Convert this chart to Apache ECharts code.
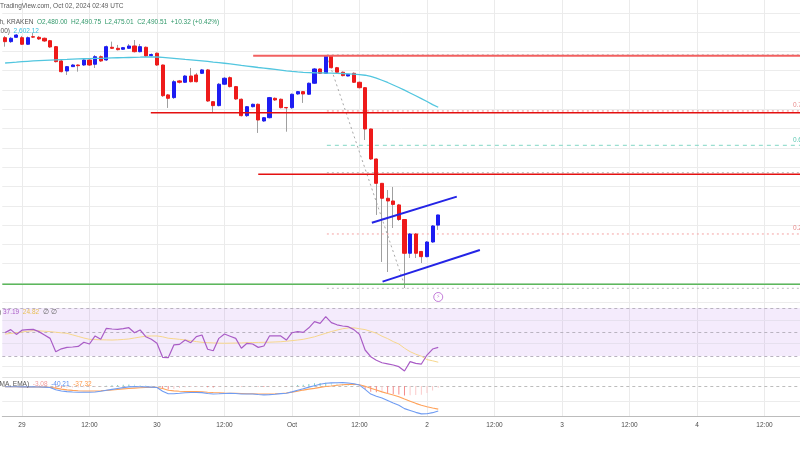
<!DOCTYPE html>
<html><head><meta charset="utf-8">
<script src="https://cdn.jsdelivr.net/npm/echarts@6/dist/echarts.min.js"></script>
<style>html,body{margin:0;padding:0;background:#fff}#c{width:800px;height:450px}</style>
</head><body><div id="c"></div>
<script>
// hours counted from 2024-09-29 00:00 UTC; first candle = Sep 28 21:00
const firstHour = -3;
const opens = [2674.2,2670.1,2674.6,2674.2,2667.4,2675.2,2674.6,2673.6,2671.1,2664.9,
 2650.1,2639.7,2644.2,2645.9,2645.9,2651.1,2646.7,2654.5,2651.1,2664.3,
 2663.2,2662.2,2663.2,2665.6,2659.7,2664.3,2655.6,2658.1,2645.9,2614.9,
 2612.1,2629.4,2628.0,2634.5,2635.6,2637.3,2640.8,2607.9,2603.8,2626.0,
 2632.8,2623.5,2610.4,2593.4,2602.7,2605.2,2587.9,2591.3,2611.4,2610.4,
 2601.9,2601.7,2615.9,2618.3,2615.6,2627.0,2641.8,2637.3,2655.3,2643.1,
 2638.4,2634.5,2637.3,2628.0,2622.4,2579.6,2548.5,2523.3,2507.8,2505.0,
 2500.9,2485.8,2450.8,2470.8,2452.7,2447.3,2462.5,2480.00];
const closes = [2670.1,2673.6,2677.0,2667.4,2674.2,2674.8,2672.9,2670.8,2664.6,2649.4,
 2639.0,2644.2,2645.9,2645.2,2651.1,2645.9,2654.5,2650.1,2664.9,2663.2,
 2661.8,2663.9,2665.6,2659.7,2664.9,2655.3,2656.8,2645.9,2614.1,2611.4,
 2628.6,2628.0,2634.5,2628.6,2628.6,2640.8,2608.6,2603.8,2626.0,2632.2,
 2623.5,2610.7,2593.4,2602.7,2605.2,2588.9,2591.3,2612.1,2609.7,2601.7,
 2601.5,2615.6,2618.3,2615.9,2627.0,2641.8,2637.3,2655.3,2643.1,2638.4,
 2634.9,2636.3,2628.0,2622.4,2579.6,2548.5,2523.3,2507.8,2505.0,2501.4,
 2485.8,2450.8,2470.8,2450.8,2447.3,2462.5,2479.1,2490.51];
const lows = [2664.9,2668.7,2673.9,2666.7,2666.7,2673.9,2671.8,2669.8,2663.6,2648.5,
 2638.2,2635.6,2643.9,2639.0,2644.9,2644.9,2642.8,2649.0,2650.1,2662.5,
 2661.0,2661.5,2662.5,2658.9,2658.9,2654.2,2654.7,2644.9,2612.8,2601.4,
 2610.7,2626.8,2627.3,2627.8,2627.8,2636.6,2607.6,2596.2,2603.0,2625.2,
 2622.6,2609.7,2592.6,2592.0,2601.9,2575.5,2586.9,2590.5,2608.6,2600.9,
 2576.8,2600.3,2614.9,2606.6,2614.9,2626.3,2636.6,2636.6,2642.3,2637.7,
 2634.1,2634.1,2627.3,2621.6,2568.2,2547.5,2490.5,2441.8,2431.4,2477.0,
 2484.3,2414.8,2445.9,2445.9,2440.7,2446.6,2461.5,2475.01];
const highs = [2676.0,2675.0,2678.1,2676.0,2675.5,2679.1,2676.0,2674.4,2671.9,2665.6,
 2651.1,2644.9,2647.0,2646.5,2652.2,2652.2,2656.3,2655.8,2666.1,2670.1,
 2666.7,2664.6,2667.7,2671.8,2667.7,2665.1,2657.9,2658.9,2646.4,2615.9,
 2630.4,2630.4,2635.6,2642.8,2637.7,2641.8,2641.8,2608.6,2627.3,2633.5,
 2634.1,2624.2,2611.2,2603.4,2606.0,2606.0,2592.0,2612.8,2612.3,2611.2,
 2602.4,2616.4,2619.0,2619.0,2627.8,2642.8,2642.3,2656.3,2656.3,2643.9,
 2639.2,2636.6,2638.2,2628.8,2623.1,2580.1,2549.0,2523.6,2516.4,2519.5,
 2501.9,2486.3,2471.8,2471.8,2453.2,2463.5,2480.1,2490.75];
const sma100 = [2648.0,2648.4,2648.8,2649.3,2649.7,2650.1,2650.4,2650.7,2651.0,2651.3,
 2651.5,2651.7,2652.0,2652.2,2652.4,2652.5,2652.7,2652.8,2653.0,2653.2,
 2653.4,2653.5,2653.7,2653.9,2654.0,2654.2,2654.3,2654.2,2653.8,2653.3,
 2652.8,2652.3,2651.7,2651.2,2650.7,2650.2,2649.6,2648.9,2648.3,2647.7,
 2647.1,2646.4,2645.5,2644.8,2644.1,2643.3,2642.7,2642.0,2641.3,2640.6,
 2639.8,2639.2,2638.7,2638.3,2638.1,2637.9,2637.8,2637.6,2637.5,2637.3,
 2637.1,2636.8,2636.5,2636.0,2635.3,2634.0,2632.3,2630.1,2627.8,2625.2,
 2622.6,2619.8,2616.9,2614.0,2611.1,2608.1,2604.9,2602.12];
const rsi = [49.5,52.0,48.0,51.5,52.0,52.2,50.3,47.5,44.7,33.6,
 36.0,37.2,37.5,38.0,41.5,40.0,46.7,43.9,53.1,52.5,
 52.2,52.8,53.6,49.4,51.7,46.1,44.0,40.6,28.9,28.6,
 39.2,39.7,43.3,41.1,46.1,47.5,35.6,34.4,44.7,48.3,
 46.5,44.7,36.4,40.6,40.0,37.2,38.3,46.7,46.7,46.7,
 43.3,49.4,50.3,49.7,53.5,58.6,57.2,62.8,57.8,56.0,
 55.0,54.4,52.0,48.0,35.0,29.4,26.5,24.4,23.5,22.5,
 21.1,17.5,25.3,23.9,23.3,30.8,35.8,37.19];
const rsiMa = [48.3,48.8,49.4,50.0,50.6,51.1,51.0,50.6,50.3,49.8,
 49.3,48.9,47.6,46.3,45.0,43.9,43.7,43.5,43.4,43.3,
 43.5,43.8,44.2,45.0,45.8,46.5,46.7,46.7,46.0,44.8,
 44.4,43.9,43.4,42.7,42.0,41.4,41.1,40.9,40.7,40.6,
 40.7,40.8,40.9,41.1,41.2,41.3,41.4,41.5,41.7,41.9,
 42.3,42.8,43.3,43.9,44.9,46.0,47.5,48.9,50.4,51.6,
 52.7,53.4,53.5,52.7,52.0,50.5,49.0,46.5,44.5,42.0,
 40.0,36.5,33.6,31.5,29.8,27.0,26.0,24.82];
const macdLine = [-1.2,-1.3,-1.2,-1.4,-1.5,-1.5,-1.6,-1.8,-2.4,-6.2,
 -8.2,-9.1,-9.6,-10.0,-10.2,-10.2,-9.6,-8.5,-6.8,-5.4,
 -4.0,-2.6,-1.4,-1.1,-1.2,-1.5,-1.8,-2.4,-8.5,-12.5,
 -12.6,-11.8,-10.9,-10.6,-10.5,-10.7,-12.2,-13.0,-12.6,-12.0,
 -11.8,-12.0,-12.8,-13.0,-12.9,-13.8,-14.4,-14.0,-13.2,-12.3,
 -11.8,-9.5,-6.8,-4.5,-1.8,0.5,2.8,4.4,5.0,5.3,
 5.4,4.8,3.5,1.5,-5.5,-13.0,-16.5,-19.5,-23.5,-27.5,
 -31.0,-36.5,-39.5,-42.5,-45.0,-44.8,-43.0,-40.21];
const signalLine = [-1.1,-1.2,-1.3,-1.4,-1.5,-1.6,-1.7,-1.9,-2.2,-3.5,
 -5.0,-6.2,-7.0,-7.6,-8.0,-8.1,-8.0,-7.6,-7.1,-6.5,
 -5.6,-4.7,-4.0,-3.4,-2.9,-2.5,-2.3,-2.3,-4.0,-6.8,
 -7.9,-8.5,-8.8,-9.0,-9.1,-9.4,-10.0,-10.5,-10.9,-11.3,
 -11.6,-11.8,-12.1,-12.4,-12.6,-12.9,-12.9,-12.9,-12.6,-12.0,
 -11.2,-9.9,-8.3,-6.6,-5.0,-3.8,-2.2,-0.9,0.0,1.1,
 1.9,2.6,2.7,2.1,-0.5,-3.8,-6.5,-9.5,-12.2,-14.5,
 -17.2,-21.0,-24.5,-28.0,-31.0,-33.5,-35.6,-37.32];
const macdHist = [-0.1,-0.1,0.1,0.0,0.0,0.1,0.1,0.1,-0.2,-2.7,
 -3.2,-2.9,-2.6,-2.4,-2.2,-2.1,-1.6,-0.9,0.3,1.1,
 1.6,2.1,2.6,2.3,1.7,1.0,0.5,-0.1,-4.5,-5.7,
 -4.7,-3.3,-2.1,-1.6,-1.4,-1.3,-2.2,-2.5,-1.7,-0.7,
 -0.2,-0.2,-0.7,-0.6,-0.3,-0.9,-1.5,-1.1,-0.6,-0.3,
 -0.6,0.4,1.5,2.1,3.2,4.3,5.0,5.3,5.0,4.2,
 3.5,2.2,0.8,-0.6,-5.0,-9.2,-10.0,-10.0,-11.3,-13.0,
 -13.8,-15.5,-15.0,-14.5,-14.0,-11.3,-7.4,-2.89];
const xTickHours = [0,12,24,36,48,60,72,84,96,108,120,132];
const xTickLabels = ['29','12:00','30','12:00','Oct','12:00','2','12:00','3','12:00','4','12:00'];
// drawn levels: [start hour, price]
const resistanceTop = [41.1, 2655.6];
const resistanceMid = [22.9, 2596.5];
const resistanceLow = [42.0, 2532.7];
const supportLine = [-3.5, 2418.7];
const fibStartHour = 54.2;
const fibPrices = [2656.4, 2598.3, 2562.7, 2534.3, 2470.8, 2414.5];
const fibNames  = ['1', '0.786', '0.618', '0.5', '0.236', '0'];
const channelUpper = [[62.2, 2482.5], [77.3, 2509.5]];
const channelLower = [[64.1, 2421.4], [81.4, 2454.2]];
const fibDiagonal = [[54.2, 2655.3], [68.2, 2414.5]];
const eventMarker = [74.0, 2405.5];
const rsiBand = [30, 50, 70];

// ---------- build ----------
const X_MIN = -3.5, X_MAX = 138.5;
const FONT = 'Liberation Sans';
const UP = '#1d1df2', DOWN = '#ee1a1a', WICK = '#a0a0a0';
const hours = opens.map((_, i) => firstHour + i);
const wickData = opens.map((o, i) => [hours[i], o, closes[i], lows[i], highs[i]]);
const bodyData = opens.map((o, i) => [hours[i], o, closes[i], Math.min(o, closes[i]), Math.max(o, closes[i])]);
const pair = (arr) => arr.map((v, i) => [hours[i], v]);
const cats = [];
for (let k = 0; X_MIN + k * 0.5 <= X_MAX + 1e-9; k++) cats.push(String(X_MIN + k * 0.5));
const isTick = (idx, val) => { const h = Number(val); return h >= 0 && xTickHours.indexOf(h) >= 0; };

const grids = [
  {left: 2.3, width: 798.75, top: -6.5, height: 308.8, outerBoundsMode: 'none', containLabel: false},
  {left: 2.3, width: 798.75, top: 302.3, height: 74.7, outerBoundsMode: 'none', containLabel: false},
  {left: 2.3, width: 798.75, top: 377, height: 39.5, outerBoundsMode: 'none', containLabel: false}
];
const xAxes = [];
[0,1,2].forEach(g => {
  xAxes.push({type: 'value', gridIndex: g, position: 'top', min: X_MIN, max: X_MAX, show: false});
  xAxes.push({type: 'category', gridIndex: g, position: 'bottom', data: cats, boundaryGap: false,
    axisLine: {show: g === 2, onZero: false, lineStyle: {color: '#bcbcbc'}},
    axisTick: {show: false},
    axisLabel: {show: g === 2, interval: isTick, margin: 5, fontSize: 6.5, color: '#4a4a4a', fontFamily: FONT,
      formatter: v => { const j = xTickHours.indexOf(Number(v)); return j >= 0 ? xTickLabels[j] : ''; }},
    splitLine: {show: true, interval: isTick, lineStyle: {color: '#ebebeb', width: 1}}
  });
});
const yAxes = [
  {type: 'value', gridIndex: 0, min: 2400, max: 2720, interval: 20, axisLabel: {show: false}, axisLine: {show: false}, axisTick: {show: false},
   splitLine: {show: true, lineStyle: {color: '#ececec'}}},
  {type: 'value', gridIndex: 1, min: 12.5, max: 74.75, show: false, splitLine: {show: false}},
  {type: 'value', gridIndex: 2, min: -49.2, max: 14.5, show: false, splitLine: {show: false}}
];

function seg(name, pts, style, z) {
  return {type: 'line', name, xAxisIndex: 0, yAxisIndex: 0, data: pts, symbol: 'none', silent: true,
    lineStyle: style, z: z || 4, animation: false, clip: true};
}

const series = [];
series.push({type: 'candlestick', name: 'wick', xAxisIndex: 0, yAxisIndex: 0, data: wickData, barWidth: 1, z: 2,
  itemStyle: {color: WICK, color0: WICK, borderColor: WICK, borderColor0: WICK, borderColorDoji: WICK, borderWidth: 1}, silent: true});
series.push({type: 'candlestick', name: 'ETHUSD', xAxisIndex: 0, yAxisIndex: 0, data: bodyData, barWidth: 3.6, z: 3,
  itemStyle: {color: UP, color0: DOWN, borderColor: UP, borderColor0: DOWN, borderColorDoji: DOWN, borderWidth: 1}, silent: true});
series.push({type: 'line', name: 'SMA100', xAxisIndex: 0, yAxisIndex: 0, data: pair(sma100), symbol: 'none', z: 4,
  lineStyle: {color: '#52c6df', width: 1.3}, silent: true});

// fib levels
const fibStyles = [
  {color: '#b8b8b8', type: [2, 3], width: 1},
  {color: '#f08a8a', type: [2, 3], width: 1},
  {color: '#80d6c4', type: [4, 4], width: 1},
  {color: '#b8b8b8', type: [2, 3], width: 1},
  {color: '#f4a3a3', type: [2, 3], width: 1},
  {color: '#bdbdbd', type: [2, 3], width: 1}
];
const fibLabelColor = ['', '#e88a8a', '#5cc8b2', '', '#e88a8a', ''];
fibPrices.forEach((p, k) => {
  const s = seg('fib ' + fibNames[k], [[fibStartHour, p], {value: [X_MAX, p]}], fibStyles[k], 3);
  if (fibLabelColor[k]) {
    s.clip = false;
    s.data[1] = {value: [X_MAX, p], symbol: 'circle', symbolSize: 0.1, itemStyle: {color: 'rgba(0,0,0,0)'},
      label: {show: true, formatter: fibNames[k], position: 'top', distance: 2, fontSize: 6.5, fontFamily: FONT, color: fibLabelColor[k]}};
  }
  series.push(s);
});
series.push(seg('fib diagonal', fibDiagonal, {color: '#a8a8a8', type: [2, 3], width: 1}, 3));
series.push(seg('resistance top', [resistanceTop, [X_MAX, resistanceTop[1]]], {color: '#f26060', width: 2}));
series.push(seg('resistance mid', [resistanceMid, [X_MAX, resistanceMid[1]]], {color: '#e41010', width: 1.5}));
series.push(seg('resistance low', [resistanceLow, [X_MAX, resistanceLow[1]]], {color: '#e41010', width: 1.5}));
series.push(seg('support', [supportLine, [X_MAX, supportLine[1]]], {color: '#5cb85c', width: 1.5}));
series.push(seg('channel upper', channelUpper, {color: '#2424e6', width: 2}, 5));
series.push(seg('channel lower', channelLower, {color: '#2424e6', width: 2}, 5));
series.push({type: 'scatter', name: 'event', xAxisIndex: 0, yAxisIndex: 0, data: [eventMarker], symbol: 'circle', symbolSize: 9, z: 6,
  itemStyle: {color: '#ffffff', borderColor: '#b45ccf', borderWidth: 1}, silent: true,
  label: {show: true, formatter: '\u26A1', position: 'inside', fontSize: 5.5, fontFamily: 'DejaVu Sans', color: '#b45ccf'}});

// RSI pane
series.push({type: 'line', name: 'RSI', xAxisIndex: 2, yAxisIndex: 1, data: pair(rsi), symbol: 'none', z: 4, silent: true,
  lineStyle: {color: '#a95cc6', width: 1.2},
  markArea: {silent: true, itemStyle: {color: 'rgba(170,100,235,0.13)'}, data: [[{yAxis: rsiBand[0]}, {yAxis: rsiBand[2]}]]},
  markLine: {silent: true, symbol: ['none', 'none'], label: {show: false}, z: 1,
    data: [
      {yAxis: 60, lineStyle: {color: '#e6e0ee', type: 'solid', width: 1}},
      {yAxis: 40.5, lineStyle: {color: '#e6e0ee', type: 'solid', width: 1}},
      {yAxis: 21.5, lineStyle: {color: '#ececec', type: 'solid', width: 1}},
      {yAxis: 12.5, lineStyle: {color: '#e2e2e2', type: 'solid', width: 1}},
      ...rsiBand.map(v => ({yAxis: v, lineStyle: {color: '#b9b3c0', type: [3, 3], width: 1}}))
    ]}});
series.push({type: 'line', name: 'RSI MA', xAxisIndex: 2, yAxisIndex: 1, data: pair(rsiMa), symbol: 'none', z: 3, silent: true,
  lineStyle: {color: '#f7d78c', width: 1}});

// MACD pane
const histData = macdHist.map((v, i) => {
  const prev = i > 0 ? macdHist[i - 1] : 0;
  let c;
  if (v >= 0) c = v >= prev ? '#7ccfc3' : '#c3ebe5';
  else c = v < prev ? '#f58b8b' : '#fbcaca';
  return {value: [hours[i], v], itemStyle: {color: c}};
});
series.push({type: 'bar', name: 'Histogram', xAxisIndex: 4, yAxisIndex: 2, data: histData, barWidth: 1, z: 2, silent: true,
  markLine: {silent: true, symbol: ['none', 'none'], label: {show: false}, z: 1,
    data: [
      {yAxis: 0, lineStyle: {color: '#bdbdbd', type: [3, 3], width: 1}},
      {yAxis: -24.2, lineStyle: {color: '#ececec', type: 'solid', width: 1}}
    ]}});
series.push({type: 'line', name: 'MACD', xAxisIndex: 4, yAxisIndex: 2, data: pair(macdLine), symbol: 'none', z: 4, silent: true,
  lineStyle: {color: '#6f9cf2', width: 1.1}});
series.push({type: 'line', name: 'Signal', xAxisIndex: 4, yAxisIndex: 2, data: pair(signalLine), symbol: 'none', z: 3, silent: true,
  lineStyle: {color: '#ffa25a', width: 1.1}});

const txt = (x, y, text, rich, fill) => ({type: 'text', x, y, z: 100, silent: true,
  style: {text, fill: fill || '#5c5c5c', fontSize: 6.5, fontFamily: FONT, verticalAlign: 'middle', rich: rich || {}}});
const richBase = {fontSize: 6.5, fontFamily: FONT};
const graphic = [
  txt(0, 6.7, 'TradingView.com, Oct 02, 2024 02:49 UTC', null, '#5a5a5a'),
  txt(-0.5, 22.7, '{g|h, KRAKEN}  {v|O2,480.00}  {v|H2,490.75}  {v|L2,475.01}  {v|C2,490.51}  {v|+10.32 (+0.42%)}',
    {g: {...richBase, fill: '#555'}, v: {...richBase, fill: '#32996b'}}),
  txt(-3, 30.8, '{g|100)}  {c|2,602.12}', {g: {...richBase, fill: '#555'}, c: {...richBase, fill: '#3fc0dd'}}),
  txt(-1, 312.3, '{g|)} {p|37.19}  {y|24.82}  {g|\u2205 \u2205}',
    {g: {...richBase, fill: '#666'}, p: {...richBase, fill: '#a95cc6'}, y: {...richBase, fill: '#e8bf55'}}),
  txt(-0.5, 384.3, '{g|MA, EMA)}  {r|-3.08}  {b|-40.21}  {o|-37.32}',
    {g: {...richBase, fill: '#555'}, r: {...richBase, fill: '#f39a9a'}, b: {...richBase, fill: '#5b8ef0'}, o: {...richBase, fill: '#ff9a4a'}})
];

const chart = echarts.init(document.getElementById('c'), null, {renderer: 'canvas'});
chart.setOption({
  animation: false,
  backgroundColor: '#ffffff',
  textStyle: {fontFamily: FONT},
  grid: grids,
  xAxis: xAxes,
  yAxis: yAxes,
  series,
  graphic
});
</script>
</body></html>
